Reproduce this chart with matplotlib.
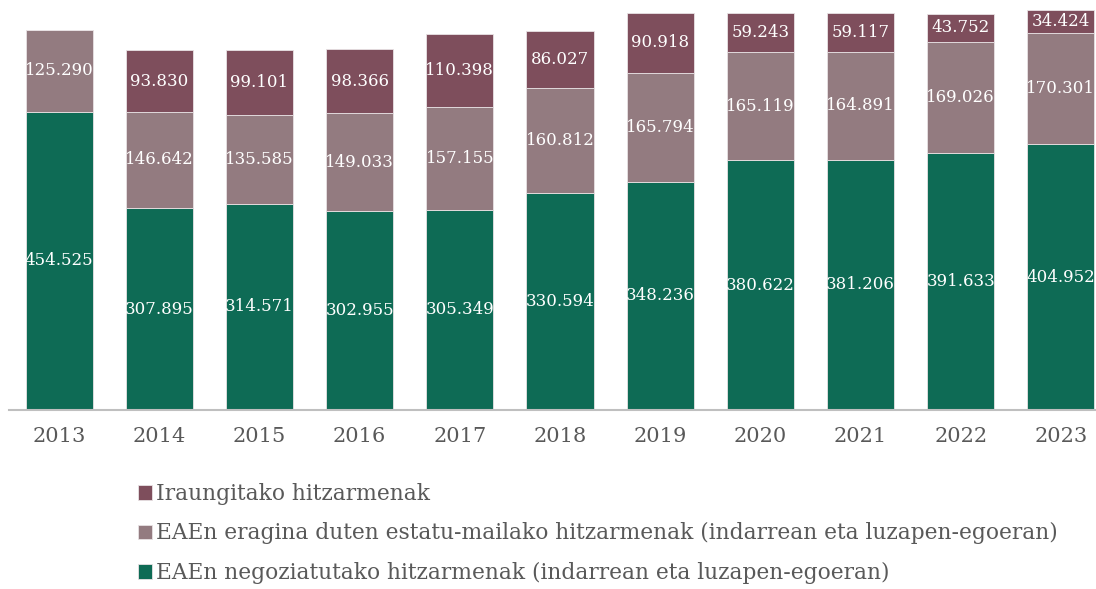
import numpy as np
import matplotlib.pyplot as plt

years = ['2013', '2014', '2015', '2016', '2017', '2018', '2019', '2020', '2021', '2022', '2023']
negoziatuak = [454.525, 307.895, 314.571, 302.955, 305.349, 330.594, 348.236, 380.622, 381.206, 391.633, 404.952]
estatukoak = [125.290, 146.642, 135.585, 149.033, 157.155, 160.812, 165.794, 165.119, 164.891, 169.026, 170.301]
iraungituak = [0, 93.830, 99.101, 98.366, 110.398, 86.027, 90.918, 59.243, 59.117, 43.752, 34.424]

labels = ['EAEn negoziatutako hitzarmenak (indarrean eta luzapen-egoeran)',
          'EAEn eragina duten estatu-mailako hitzarmenak (indarrean eta luzapen-egoeran)',
          'Iraungitako hitzarmenak']
colors = ['#0E6B55', '#937B80', '#7E4E5C']

plt.rcParams['font.family'] = ['DejaVu Serif']
txt_color = '#595959'

fig = plt.figure(figsize=(10.96, 5.89), dpi=100)
ax = fig.add_axes([9 / 1096, 1 - 410 / 589, 1102 / 1096, 410 / 589])

x = np.arange(len(years))
bottom = np.zeros(len(years))
handles = []
for vals, col, lab in zip([negoziatuak, estatukoak, iraungituak], colors, labels):
    vals = np.array(vals)
    bars = ax.bar(x, vals, 0.67, bottom=bottom, color=col, edgecolor='#E8E2E4',
                  linewidth=0.6, label=lab)
    handles.append(bars)
    for xi, b, v in zip(x, bottom, vals):
        if v > 0:
            ax.text(xi, b + v / 2, f'{v:.3f}', ha='center', va='center',
                    color='white', fontsize=12)
    bottom += vals

ax.set_xlim(-0.5, len(years) - 0.5)
ax.set_ylim(0, 625)
ax.set_xticks(x)
ax.set_xticklabels(years, fontsize=15, color=txt_color)
ax.tick_params(axis='x', length=0, pad=12)
ax.set_yticks([])
for s in ['top', 'right', 'left']:
    ax.spines[s].set_visible(False)
ax.spines['bottom'].set_color('#BFBFBF')
ax.spines['bottom'].set_linewidth(1.5)

leg = fig.legend(handles[::-1], labels[::-1], loc='upper left',
                 bbox_to_anchor=(127 / 1096, 1 - 472 / 589), frameon=False,
                 fontsize=15.7, handlelength=0.65, handleheight=0.65,
                 handletextpad=0.2, labelspacing=0.8, borderpad=0)
for t in leg.get_texts():
    t.set_color(txt_color)

fig.savefig('out.png', dpi=100)
